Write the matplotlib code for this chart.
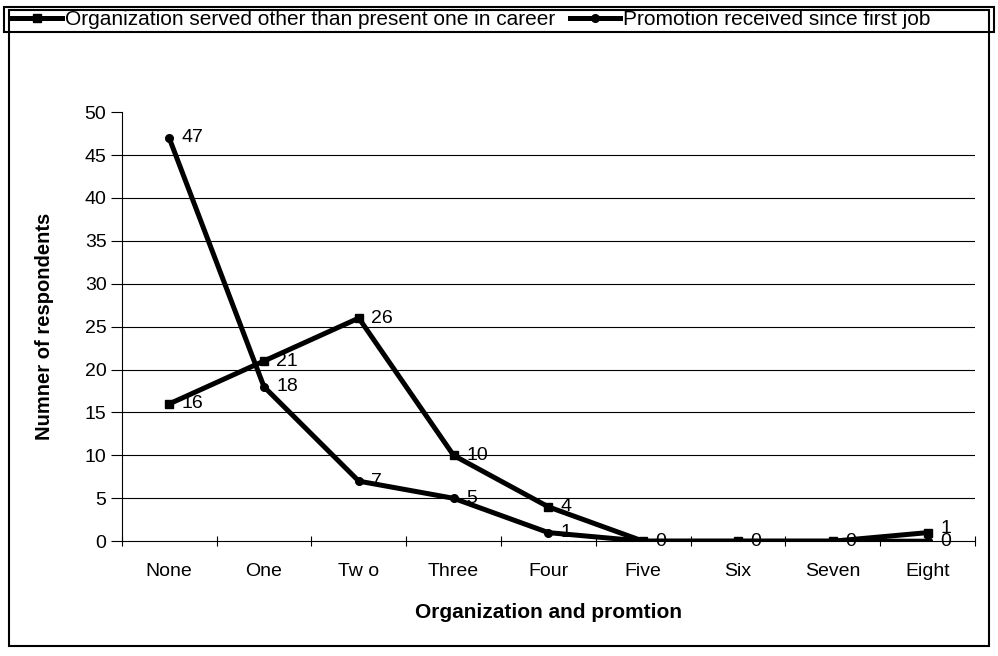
import matplotlib
matplotlib.use("Agg")
import matplotlib.pyplot as plt
from matplotlib.patches import Rectangle

plt.rcParams['font.family'] = ['Liberation Sans', 'DejaVu Sans']

categories = ["None", "One", "Tw o", "Three", "Four", "Five", "Six", "Seven", "Eight"]
org_served = [16, 21, 26, 10, 4, 0, 0, 0, 1]
promotion = [47, 18, 7, 5, 1, 0, 0, 0, 0]
series_names = ["Organization served other than present one in career",
                "Promotion received since first job"]
y_ticks = [0, 5, 10, 15, 20, 25, 30, 35, 40, 45, 50]

fig = plt.figure(figsize=(9.98, 6.56), dpi=100)
ax = fig.add_axes([0.122, 0.175, 0.855, 0.654])

x = list(range(len(categories)))
l1, = ax.plot(x, org_served, color='black', lw=3.6, marker='s', ms=5.5,
              label=series_names[0], zorder=3)
l2, = ax.plot(x, promotion, color='black', lw=3.6, marker='o', ms=5.5,
              label=series_names[1], zorder=3)

# data labels; coincident zero labels share a position (as in the reference)
for xi, v in zip(x, org_served):
    ax.annotate(str(v), (xi, v), xytext=(9, 3 if v > 0 and xi == 8 else 0),
                textcoords='offset points',
                fontsize=14, va='center', ha='left', zorder=4)
for xi, v in zip(x, promotion):
    if v == 0 and org_served[xi] == 0:
        continue
    ax.annotate(str(v), (xi, v), xytext=(9, 0), textcoords='offset points',
                fontsize=14, va='center', ha='left', zorder=4)

ax.set_xlim(-0.5, len(categories) - 0.5)
ax.set_ylim(0, 50)
ax.set_yticks(y_ticks)
ax.tick_params(axis='y', labelsize=14, length=8, direction='out', width=0.8, pad=3)
for yv in y_ticks[1:-1]:
    ax.axhline(yv, color='black', lw=0.8, zorder=1)

ax.set_xticks(x)
ax.set_xticklabels(categories, fontsize=14)
ax.tick_params(axis='x', length=0, pad=16)
ax.set_xticks([i - 0.5 for i in range(len(categories) + 1)], minor=True)
ax.tick_params(axis='x', which='minor', length=7, direction='inout', width=0.8)

ax.spines['top'].set_visible(False)
ax.spines['right'].set_visible(False)
ax.spines['left'].set_linewidth(0.8)
ax.spines['bottom'].set_linewidth(0.8)

ax.set_xlabel("Organization and promtion", fontsize=15, fontweight='bold', labelpad=16)
ax.set_ylabel("Numner of respondents", fontsize=14.5, fontweight='bold', labelpad=22)

leg = fig.legend(handles=[l1, l2], loc='center left', ncol=2,
                 bbox_to_anchor=(0.008, 0.970),
                 fontsize=15, frameon=False,
                 handlelength=2.4, handletextpad=0.15, columnspacing=0.7,
                 borderpad=0.2, borderaxespad=0)

# legend box spanning the width
fig.patches.append(Rectangle((0.004, 0.951), 0.992, 0.038, transform=fig.transFigure,
                             fill=False, edgecolor='black', lw=1.5))
# outer chart frame
fig.patches.append(Rectangle((0.009, 0.015), 0.982, 0.97, transform=fig.transFigure,
                             fill=False, edgecolor='black', lw=1.5))

fig.savefig("out.png", dpi=100)
